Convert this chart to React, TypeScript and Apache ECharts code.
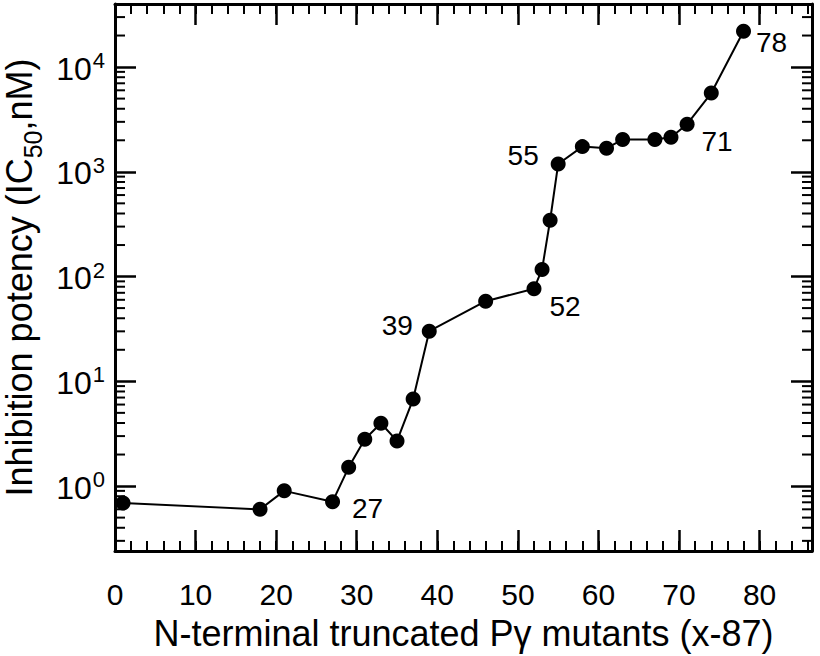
import React, { useEffect, useRef } from "react";
import * as echarts from "echarts";

// N-terminal truncation position (x-87)
const xValues = [1, 18, 21, 27, 29, 31, 33, 35, 37, 39, 46, 52, 53, 54, 55, 58, 61, 63, 67, 69, 71, 74, 78];
// IC50 (nM)
const icValues = [0.69, 0.6, 0.9, 0.71, 1.51, 2.8, 3.98, 2.7, 6.77, 30.1, 58.2, 76.6, 117, 345, 1188, 1740, 1680, 2030, 2030, 2140, 2850, 5650, 21980];
// points carrying a text label
const labelledX = [27, 39, 52, 55, 71, 78];
// minor ticks of the log axis
const yMinorTicks = [
  0.3, 0.4, 0.5, 0.6, 0.7, 0.8, 0.9,
  2, 3, 4, 5, 6, 7, 8, 9,
  20, 30, 40, 50, 60, 70, 80, 90,
  200, 300, 400, 500, 600, 700, 800, 900,
  2000, 3000, 4000, 5000, 6000, 7000, 8000, 9000,
  20000, 30000,
];

const X_MIN = 0;
const X_MAX = 86.5;
const Y_MIN = 0.24;
const Y_MAX = 40000;

const FONT = "Liberation Sans, Arial, Helvetica, sans-serif";

const labelOffsets: Record<number, [number, number]> = {
  27: [35, 7],
  39: [-32, -6],
  52: [31, 18],
  55: [-35, -8],
  71: [30, 17],
  78: [28, 11],
};

export default function App() {
  const ref = useRef<HTMLDivElement>(null);

  useEffect(() => {
    if (!ref.current) return;
    const chart = echarts.init(ref.current, null, { renderer: "svg" });

    const lineData = xValues.map((x, i) => {
      const item: any = { value: [x, icValues[i]] };
      if (labelledX.includes(x)) {
        item.label = {
          show: true,
          formatter: String(x),
          position: "inside",
          offset: labelOffsets[x],
          color: "#000",
          fontSize: 28,
          fontFamily: FONT,
          align: "center",
          verticalAlign: "middle",
        };
      }
      return item;
    });

    const tickStyleMajor = { color: "#000", width: 2.5 };
    const tickStyleMinor = { color: "#000", width: 2 };

    const option: any = {
      animation: false,
      backgroundColor: "#fff",
      grid: { left: 115, right: 8, top: 4, bottom: 105, containLabel: false, outerBoundsMode: "none" },
      xAxis: [
        {
          type: "value",
          position: "bottom",
          min: X_MIN,
          max: X_MAX,
          interval: 10,
          axisLine: { show: true, onZero: false, lineStyle: { color: "#000", width: 3 } },
          axisTick: { show: true, inside: true, length: 21, lineStyle: tickStyleMajor },
          axisLabel: {
            show: true,
            margin: 28,
            color: "#000",
            fontSize: 30,
            fontFamily: FONT,
            showMaxLabel: false,
          },
          splitLine: { show: false },
          name: "N-terminal truncated Pγ mutants (x-87)",
          nameLocation: "middle",
          nameGap: 64,
          nameTextStyle: { color: "#000", fontSize: 36, fontFamily: FONT },
        },
        {
          type: "value",
          position: "bottom",
          min: X_MIN,
          max: X_MAX,
          interval: 2,
          axisLine: { show: false, onZero: false },
          axisTick: { show: true, inside: true, length: 10, lineStyle: tickStyleMinor },
          axisLabel: { show: false },
          splitLine: { show: false },
        },
        {
          type: "value",
          position: "top",
          min: X_MIN,
          max: X_MAX,
          interval: 10,
          axisLine: { show: true, onZero: false, lineStyle: { color: "#000", width: 3 } },
          axisTick: { show: true, inside: true, length: 21, lineStyle: tickStyleMajor },
          axisLabel: { show: false },
          splitLine: { show: false },
        },
        {
          type: "value",
          position: "top",
          min: X_MIN,
          max: X_MAX,
          interval: 2,
          axisLine: { show: false, onZero: false },
          axisTick: { show: true, inside: true, length: 10, lineStyle: tickStyleMinor },
          axisLabel: { show: false },
          splitLine: { show: false },
        },
      ],
      yAxis: [
        {
          type: "log",
          logBase: 10,
          position: "left",
          min: Y_MIN,
          max: Y_MAX,
          axisLine: { show: true, onZero: false, lineStyle: { color: "#000", width: 3 } },
          axisTick: { show: true, inside: true, length: 21, lineStyle: tickStyleMajor },
          axisLabel: {
            show: true,
            margin: 10,
            showMinLabel: false,
            showMaxLabel: false,
            formatter: (v: number) => {
              const e = Math.round(Math.log10(v));
              return `{b|10}{s|${e}}`;
            },
            rich: {
              b: { fontSize: 32, fontFamily: FONT, color: "#000", verticalAlign: "bottom" },
              s: { fontSize: 22, fontFamily: FONT, color: "#000", verticalAlign: "bottom", padding: [0, 0, 13, 1] },
            },
          },
          splitLine: { show: false },
          minorTick: { show: false },
          name: "{a|Inhibition potency (IC}{sub|50}{a|,nM)}",
          nameLocation: "middle",
          nameGap: 70,
          nameTextStyle: {
            color: "#000",
            fontSize: 36,
            fontFamily: FONT,
            rich: {
              a: { fontSize: 36, fontFamily: FONT, color: "#000", verticalAlign: "bottom", padding: [0, 0, 8, 0] },
              sub: { fontSize: 25, fontFamily: FONT, color: "#000", verticalAlign: "bottom" },
            },
          },
        },
        {
          type: "log",
          logBase: 10,
          position: "right",
          min: Y_MIN,
          max: Y_MAX,
          axisLine: { show: true, onZero: false, lineStyle: { color: "#000", width: 3 } },
          axisTick: { show: true, inside: true, length: 21, lineStyle: tickStyleMajor },
          axisLabel: { show: false },
          splitLine: { show: false },
        },
      ],
      series: [
        {
          type: "custom",
          xAxisIndex: 0,
          yAxisIndex: 0,
          silent: true,
          clip: false,
          data: yMinorTicks.map((v) => [X_MIN, v]),
          encode: { x: 0, y: 1 },
          renderItem: (params: any, api: any) => {
            const cs = params.coordSys;
            const y = api.coord([X_MIN, api.value(1)])[1];
            return {
              type: "group",
              children: [
                {
                  type: "line",
                  shape: { x1: cs.x, y1: y, x2: cs.x + 10, y2: y },
                  style: { stroke: "#000", lineWidth: 2 },
                },
                {
                  type: "line",
                  shape: { x1: cs.x + cs.width, y1: y, x2: cs.x + cs.width - 10, y2: y },
                  style: { stroke: "#000", lineWidth: 2 },
                },
              ],
            };
          },
        },
        {
          type: "line",
          xAxisIndex: 0,
          yAxisIndex: 0,
          data: lineData,
          symbol: "circle",
          symbolSize: 15,
          showAllSymbol: true,
          lineStyle: { color: "#000", width: 2 },
          itemStyle: { color: "#000" },
          z: 5,
        },
      ],
    };

    chart.setOption(option);
    return () => chart.dispose();
  }, []);

  return (
    <div
      ref={ref}
      style={{ position: "fixed", left: 0, top: 0, width: 820, height: 656, background: "#fff" }}
    />
  );
}
